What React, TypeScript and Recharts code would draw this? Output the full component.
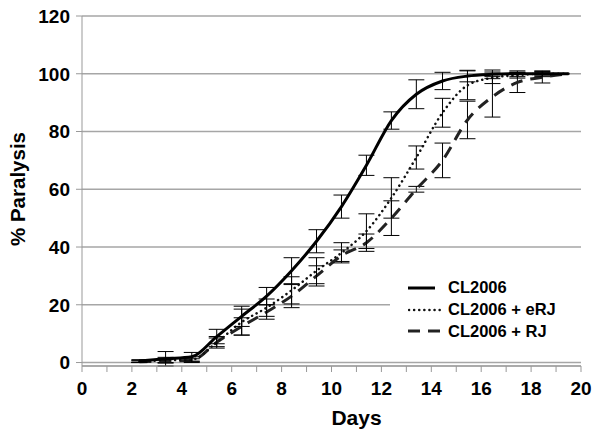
import React from 'react';
import {
  LineChart, Line, XAxis, YAxis, CartesianGrid, ErrorBar, Legend, Label
} from 'recharts';

const FONT = '"Liberation Sans", Arial, sans-serif';

const days = [2.3, 3.35, 4.4, 5.4, 6.4, 7.4, 8.4, 9.4, 10.4, 11.4, 12.4, 13.4, 14.45, 15.45, 16.45, 17.45, 18.45, 19.5];

const cl2006 = [0.5, 1.3, 2, 9, 16, 23, 31.8, 42, 54, 68.3, 83.8, 92.9, 97.5, 99.2, 99.8, 100, 100, 100];
const cl2006Err = [0.5, 2.5, 1.5, 2.5, 3.5, 3, 4.5, 4, 4, 3.5, 3, 5, 3, 2, 1.5, 1, 1, 0];

const erj = [0.3, 0.8, 1, 7, 14, 19, 25, 31.8, 38, 45.5, 57, 71, 86.5, 96, 98.6, 99.5, 100, 100];
const erjErr = [0.3, 1, 1, 2, 4.5, 3, 4.7, 4.5, 3.5, 6, 7, 4, 5, 5, 2, 1, 0.5, 0];

const rj = [0.3, 0.5, 0.8, 7, 12.5, 17.5, 23, 30, 37, 41.5, 50, 60, 70, 84, 92, 97, 98.8, 100];
const rjErr = [0.3, 0.5, 0.5, 1.5, 3, 2.5, 4, 3.5, 2, 3, 6, 1, 6, 6.5, 7, 3.5, 2, 0];

const xTicks = [0, 1, 2, 3, 4, 5, 6, 7, 8, 9, 10, 11, 12, 13, 14, 15, 16, 17, 18, 19, 20];
const yTicks = [0, 20, 40, 60, 80, 100, 120];

const seriesNames = ['CL2006', 'CL2006 + eRJ', 'CL2006 + RJ'];

const data = days.map((d, i) => ({
  day: d,
  cl: cl2006[i], clErr: cl2006Err[i],
  erj: erj[i], erjErr: erjErr[i],
  rj: rj[i], rjErr: rjErr[i],
}));

function LegendBox() {
  const samples = [
    <line x1={0} y1={6} x2={27} y2={6} stroke="#000" strokeWidth={3} />,
    <line x1={1} y1={6} x2={32} y2={6} stroke="#111" strokeWidth={2.5} strokeDasharray="0.1 5" strokeLinecap="round" />,
    <line x1={0} y1={6} x2={32} y2={6} stroke="#222" strokeWidth={3} strokeDasharray="12 8" />,
  ];
  return (
    <div style={{ background: '#fff', padding: '0 0 6px 18px', fontFamily: FONT }}>
      {seriesNames.map((name, i) => (
        <div key={name} style={{ display: 'flex', alignItems: 'center', height: 21.7 }}>
          <svg width={40} height={12}>{samples[i]}</svg>
          <span style={{ fontSize: 16.5, fontWeight: 'bold', color: '#000' }}>{name}</span>
        </div>
      ))}
    </div>
  );
}

export default function App() {
  const tickStyle = { fontSize: 19, fontWeight: 'bold', fill: '#000', fontFamily: FONT };
  return (
    <div style={{ position: 'absolute', left: 0, top: 0, background: '#fff' }}>
      <LineChart width={600} height={434} data={data} margin={{ top: 16, right: 19, bottom: 0, left: 0 }}>
        <CartesianGrid vertical={false} stroke="#a6a6a6" strokeWidth={1.5} />
        <XAxis
          type="number"
          dataKey="day"
          domain={[0, 20]}
          ticks={xTicks}
          interval={0}
          height={68}
          tickSize={6}
          tickMargin={10}
          stroke="#999"
          tick={tickStyle}
          tickFormatter={(v: number) => (v % 2 === 0 ? String(v) : '')}
        >
          <Label
            content={({ viewBox }: any) => (
              <text
                x={viewBox.x + viewBox.width / 2 + 25}
                y={425}
                textAnchor="middle"
                style={{ fontSize: 21, fontWeight: 'bold', fontFamily: FONT, fill: '#000' }}
              >
                Days
              </text>
            )}
          />
        </XAxis>
        <YAxis
          type="number"
          domain={[0, 120]}
          ticks={yTicks}
          width={82}
          tickSize={6}
          tickMargin={6}
          stroke="#999"
          tick={tickStyle}
        >
          <Label
            content={({ viewBox }: any) => {
              const cy = viewBox.y + viewBox.height / 2 - 2;
              return (
                <text
                  x={25}
                  y={cy}
                  transform={`rotate(-90 25 ${cy})`}
                  textAnchor="middle"
                  style={{ fontSize: 20.5, fontWeight: 'bold', fontFamily: FONT, fill: '#000' }}
                >
                  % Paralysis
                </text>
              );
            }}
          />
        </YAxis>
        <Legend
          layout="vertical"
          align="center"
          verticalAlign="middle"
          content={<LegendBox />}
          wrapperStyle={{ left: 390, top: 277, width: 205, height: 'auto' }}
        />
        <Line type="monotone" dataKey="rj" stroke="#222" strokeWidth={3} strokeDasharray="12 8" dot={false} isAnimationActive={false}>
          <ErrorBar dataKey="rjErr" width={8} stroke="#000" strokeWidth={1} direction="y" />
        </Line>
        <Line type="monotone" dataKey="erj" stroke="#111" strokeWidth={2.5} strokeDasharray="0.1 5" strokeLinecap="round" dot={false} isAnimationActive={false}>
          <ErrorBar dataKey="erjErr" width={8} stroke="#000" strokeWidth={1} direction="y" />
        </Line>
        <Line type="monotone" dataKey="cl" stroke="#000" strokeWidth={3} dot={false} isAnimationActive={false}>
          <ErrorBar dataKey="clErr" width={8} stroke="#000" strokeWidth={1} direction="y" />
        </Line>
      </LineChart>
    </div>
  );
}
